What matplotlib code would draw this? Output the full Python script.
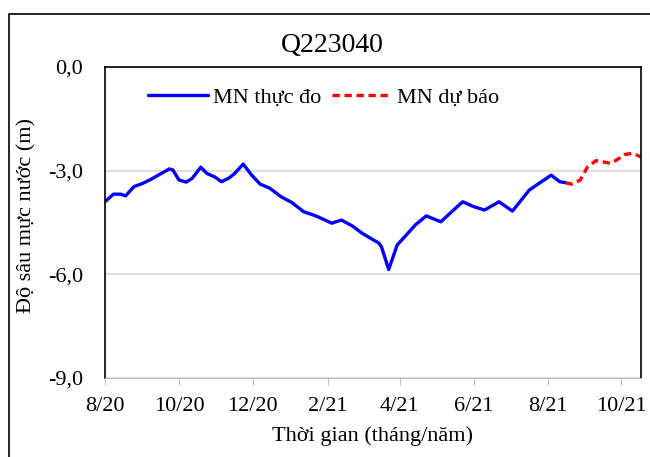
import datetime as dt
import matplotlib
matplotlib.use('Agg')
import matplotlib.pyplot as plt
from matplotlib.patches import Rectangle

# measured water level (m)
obs_dates = ['2020-08-01', '2020-08-08', '2020-08-14', '2020-08-18', '2020-08-25',
             '2020-09-01', '2020-09-08', '2020-09-15', '2020-09-23', '2020-09-26',
             '2020-10-01', '2020-10-07', '2020-10-12', '2020-10-19', '2020-10-24',
             '2020-10-31', '2020-11-05', '2020-11-11', '2020-11-16', '2020-11-23',
             '2020-11-30', '2020-12-07', '2020-12-15', '2020-12-24', '2021-01-02',
             '2021-01-12', '2021-01-22', '2021-02-04', '2021-02-12', '2021-02-21',
             '2021-03-01', '2021-03-15', '2021-03-17', '2021-03-23', '2021-03-30',
             '2021-04-04', '2021-04-14', '2021-04-23', '2021-05-05', '2021-05-13',
             '2021-05-23', '2021-06-01', '2021-06-10', '2021-06-22', '2021-07-03',
             '2021-07-17', '2021-07-27', '2021-08-04', '2021-08-11', '2021-08-16']
obs_values = [-3.90, -3.68, -3.68, -3.73, -3.46, -3.37, -3.25, -3.11, -2.95, -2.98,
              -3.27, -3.33, -3.22, -2.90, -3.08, -3.19, -3.32, -3.22, -3.08, -2.81,
              -3.13, -3.39, -3.51, -3.75, -3.92, -4.19, -4.31, -4.52, -4.43, -4.60,
              -4.81, -5.10, -5.20, -5.86, -5.15, -4.96, -4.57, -4.31, -4.48, -4.22,
              -3.90, -4.04, -4.14, -3.90, -4.17, -3.56, -3.32, -3.13, -3.32, -3.35]

# forecast water level (m)
fc_dates = ['2021-08-16', '2021-08-21', '2021-08-28', '2021-09-03', '2021-09-10',
            '2021-09-15', '2021-09-22', '2021-09-27', '2021-10-04', '2021-10-10',
            '2021-10-17']
fc_values = [-3.35, -3.39, -3.27, -2.89, -2.71, -2.74, -2.79, -2.69, -2.53, -2.50, -2.60]

tick_dates = ['2020-08-01', '2020-10-01', '2020-12-01', '2021-02-01',
              '2021-04-01', '2021-06-01', '2021-08-01', '2021-10-01']
tick_labels = ['8/20', '10/20', '12/20', '2/21', '4/21', '6/21', '8/21', '10/21']
y_ticks = [0, -3, -6, -9]
y_labels = ['0,0', '-3,0', '-6,0', '-9,0']

to_date = lambda s: dt.datetime.strptime(s, '%Y-%m-%d')

plt.rcParams['font.family'] = ['Liberation Serif', 'DejaVu Serif']

fig = plt.figure(figsize=(6.5, 4.57), dpi=100)
ax = fig.add_axes([0.1615, 0.1729, 0.8245, 0.6805])

# outer chart border
fig.patches.append(Rectangle((9 / 650, -0.05), 1.05, 1 - 14 / 457 + 0.05,
                             transform=fig.transFigure, fill=False,
                             edgecolor='black', linewidth=1.2))

ax.plot([to_date(d) for d in obs_dates], obs_values, color='#0000ff', lw=2.4,
        label='MN thực đo', solid_joinstyle='round', solid_capstyle='round')
ax.plot([to_date(d) for d in fc_dates], fc_values, color='#ff0000', lw=2.4,
        ls=(0, (2.2, 1.4)), label='MN dự báo')

ax.set_xlim(to_date('2020-08-01'), to_date('2021-10-17'))
ax.set_ylim(-9, 0)
ax.set_xticks([to_date(d) for d in tick_dates])
ax.set_xticklabels(tick_labels)
ax.set_yticks(y_ticks)
ax.set_yticklabels(y_labels)
ax.tick_params(axis='x', labelsize=16, length=5, color='#bfbfbf', pad=9)
ax.tick_params(axis='y', labelsize=16, length=0, pad=16)

ax.grid(axis='y', color='#d9d9d9', lw=1.2)
for s in ['left', 'right', 'top']:
    ax.spines[s].set_color('black')
    ax.spines[s].set_linewidth(1.2)
ax.spines['bottom'].set_color('#bfbfbf')

fig.text(332 / 650, 1 - 46 / 457, 'Q223040', fontsize=20, ha='center', va='center')
ax.set_xlabel('Thời gian (tháng/năm)', fontsize=16, labelpad=7)
ax.set_ylabel('Độ sâu mực nước (m)', fontsize=16, labelpad=8, y=0.524)

ax.legend(loc='upper left', bbox_to_anchor=(0.043, 1.0), ncol=2, frameon=False,
          fontsize=16, handlelength=2.7, handletextpad=0.22, columnspacing=0.5)

fig.savefig('out.png', dpi=100)
